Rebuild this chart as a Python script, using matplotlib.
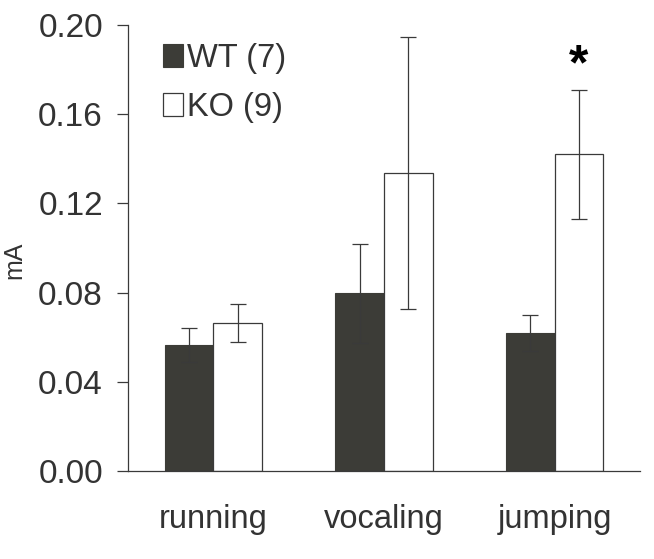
import matplotlib.pyplot as plt
import numpy as np

plt.rcParams['font.family'] = ['Liberation Sans', 'DejaVu Sans']

# data
categories = ["running", "vocaling", "jumping"]
wt_mean = [0.0566, 0.0796, 0.0620]
wt_err = [0.0077, 0.0220, 0.0080]
ko_mean = [0.0665, 0.1335, 0.1420]
ko_err = [0.0085, 0.0610, 0.0290]
wt_label = "WT (7)"
ko_label = "KO (9)"
yticks = [0.00, 0.04, 0.08, 0.12, 0.16, 0.20]

dark = '#3c3c37'
line = '#3a3a3a'

fig = plt.figure(figsize=(6.54, 5.59), dpi=100)
ax = fig.add_axes([0.1957, 0.1574, 0.7829, 0.7979])

x = np.arange(len(categories))
w = 0.285

ax.bar(x - w / 2, wt_mean, w, color=dark, edgecolor=dark, linewidth=0.8,
       yerr=wt_err, error_kw=dict(ecolor=line, elinewidth=0.9, capsize=6, capthick=0.9),
       label=wt_label)
ax.bar(x + w / 2, ko_mean, w, color='white', edgecolor=line, linewidth=0.9,
       yerr=ko_err, error_kw=dict(ecolor=line, elinewidth=0.9, capsize=6, capthick=0.9),
       label=ko_label)

# significance marker above jumping KO
ax.text(x[2] + w / 2, ko_mean[2] + ko_err[2] + 0.0105, "*", ha='center', va='center',
        fontsize=36, fontweight='bold', color='black')

ax.set_xlim(-0.5, 2.5)
ax.set_ylim(0, 0.20)
ax.set_yticks(yticks)
ax.set_yticklabels([f"{v:.2f}" for v in yticks])
ax.set_xticks(x)
ax.set_xticklabels(categories)

for s in ['top', 'right']:
    ax.spines[s].set_visible(False)
for s in ['left', 'bottom']:
    ax.spines[s].set_color(line)
    ax.spines[s].set_linewidth(0.9)

ax.tick_params(axis='y', direction='out', length=8, width=0.9, color=line,
               labelsize=24, labelcolor='#333333', pad=10)
ax.tick_params(axis='x', length=0, labelsize=23.5, labelcolor='#333333', pad=24)
ax.set_ylabel("mA", fontsize=18, color='#333333')
ax.yaxis.set_label_coords(-0.199, 0.473)

ax.legend(loc='upper left', bbox_to_anchor=(0.024, 1.011), frameon=False, fontsize=23.5,
          handlelength=0.62, handleheight=0.75, handletextpad=0.1, labelspacing=0.55,
          borderpad=0.2, labelcolor='#333333')

fig.savefig("out.png", dpi=100, facecolor='white')
